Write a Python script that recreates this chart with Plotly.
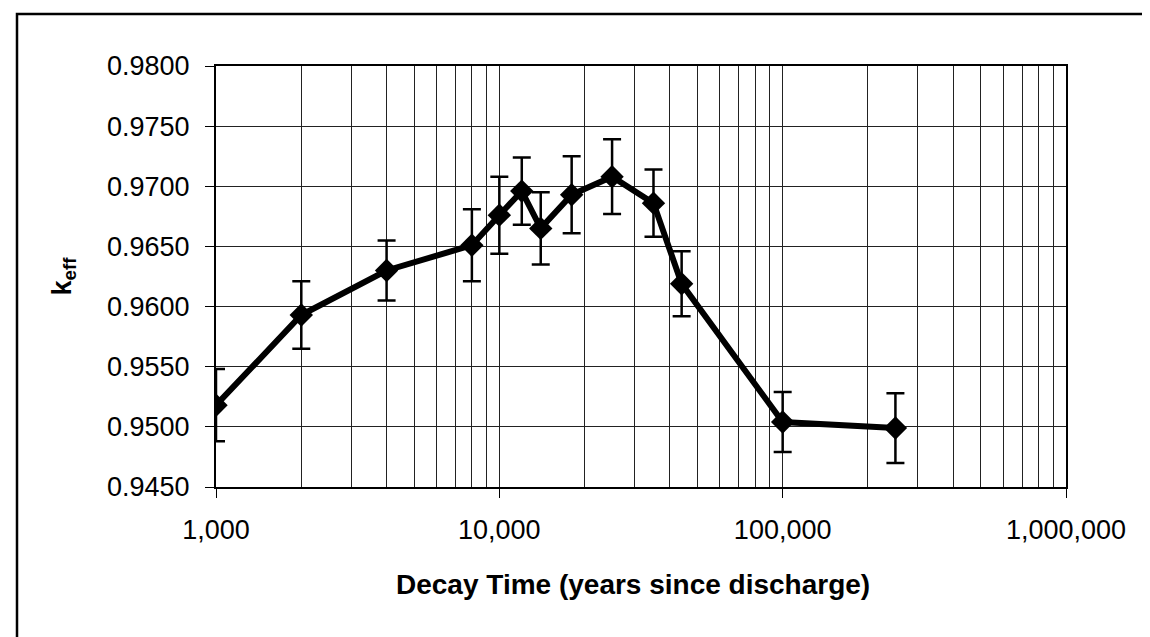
import plotly.graph_objects as go

# Data
decay_years = [1000, 2000, 4000, 8000, 10000, 12000, 14000, 18000, 25000, 35000, 44000, 100000, 250000]
k_eff = [0.9518, 0.9593, 0.9630, 0.9651, 0.9676, 0.9696, 0.9665, 0.9693, 0.9708, 0.9686, 0.9619, 0.9504, 0.9499]
k_err = [0.0030, 0.0028, 0.0025, 0.0030, 0.0032, 0.0028, 0.0030, 0.0032, 0.0031, 0.0028, 0.0027, 0.0025, 0.0029]

x_tickvals = [1000, 10000, 100000, 1000000]
x_ticktext = ["1,000", "10,000", "100,000", "1,000,000"]
y_tickvals = [0.9450, 0.9500, 0.9550, 0.9600, 0.9650, 0.9700, 0.9750, 0.9800]

W, H = 1150, 637
L, R, T, B = 208, 92, 58, 158
FONT = "Arial, Liberation Sans, sans-serif"
pw, ph = W - L - R, H - T - B

fig = go.Figure()
fig.add_trace(go.Scatter(
    x=decay_years, y=k_eff,
    mode="lines+markers",
    line=dict(color="black", width=6),
    marker=dict(symbol="diamond", size=18, color="black"),
    error_y=dict(type="data", array=k_err, visible=True, color="black", thickness=2.5, width=9),
    showlegend=False,
))

minor_vals = [m * 10 ** e for e in range(3, 6) for m in range(2, 10)]

fig.update_layout(
    width=W, height=H,
    margin=dict(l=L, r=R, t=T, b=B),
    paper_bgcolor="white", plot_bgcolor="white",
    font=dict(family=FONT, color="black"),
    xaxis=dict(
        type="log", range=[3, 6],
        tickvals=x_tickvals, ticktext=x_ticktext,
        tickfont=dict(size=27),
        ticks="outside", ticklen=9, tickcolor="black", tickwidth=1,
        ticklabelstandoff=9,
        showgrid=True, gridcolor="#222", gridwidth=1,
        minor=dict(tickvals=minor_vals, showgrid=True, gridcolor="#222", gridwidth=1, ticks=""),
        showline=True, linecolor="black", linewidth=2, mirror=True,
        zeroline=False,
    ),
    yaxis=dict(
        range=[0.945, 0.980],
        tickvals=y_tickvals, tickformat=".4f",
        tickfont=dict(size=27),
        ticks="outside", ticklen=9, tickcolor="black", tickwidth=1,
        ticklabelstandoff=10,
        showgrid=True, gridcolor="#222", gridwidth=1,
        showline=True, linecolor="black", linewidth=2, mirror=True,
        zeroline=False,
    ),
)

# x-axis title
fig.add_annotation(
    xref="paper", yref="paper",
    x=(625 - L) / pw, y=(H - 576 - B) / ph,
    text="<b>Decay Time (years since discharge)</b>", showarrow=False,
    font=dict(size=28, family=FONT),
    xanchor="center", yanchor="middle",
)

# y-axis title (k with subscript eff)
fig.add_annotation(
    xref="paper", yref="paper",
    x=(55 - L) / pw, y=0.5,
    text="<b>k<sub>eff</sub></b>", showarrow=False,
    textangle=-90, font=dict(size=27, family=FONT),
    xanchor="center", yanchor="middle",
)

# outer frame around the whole chart
fig.add_shape(
    type="rect", xref="paper", yref="paper",
    x0=(9 - L) / pw, x1=(1147 - L) / pw,
    y0=(H - 632 - B) / ph, y1=(H - 6 - B) / ph,
    line=dict(color="black", width=2.5), fillcolor="rgba(0,0,0,0)", layer="above",
)

fig.write_html("out.html")
